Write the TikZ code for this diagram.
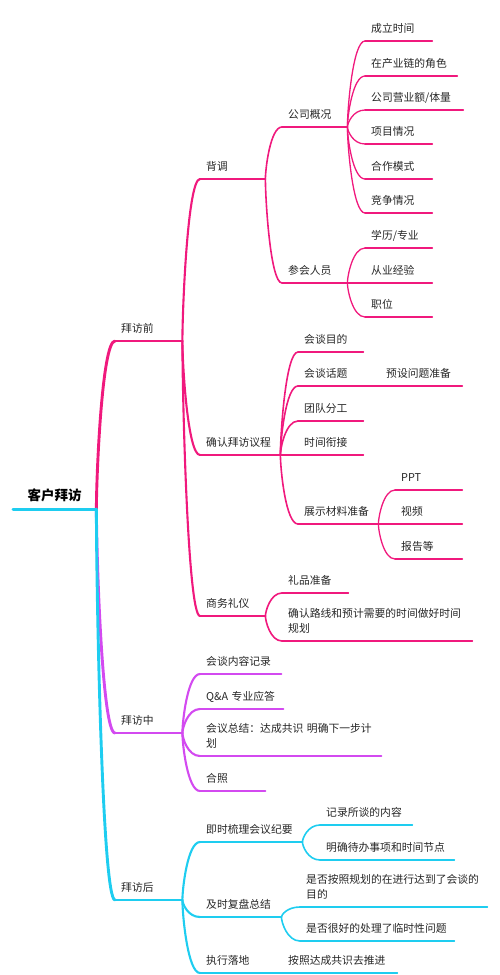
\documentclass[tikz,border=0pt]{standalone}
\usepackage{fontspec}
\setmainfont{Noto Sans CJK SC}
\usetikzlibrary{calc}
\definecolor{cpink}{HTML}{F0197D}
\definecolor{cpurple}{HTML}{D34AF0}
\definecolor{ccyan}{HTML}{1ECDF0}
\definecolor{ctext}{HTML}{262626}
\tikzset{
  topic/.style={anchor=south west, inner xsep=6pt, inner ysep=8pt, text depth=0pt,
    align=left, text=ctext, font=\fontsize{10.8}{15}\selectfont},
  twoline/.style={text depth=15pt},
  rootstyle/.style={anchor=south west, inner xsep=6pt, inner ysep=8pt, text depth=0pt,
    align=center, text=black, font=\fontsize{13.5}{16}\selectfont\bfseries},
  branch/.style={to path={let \p1=(\tikztostart), \p2=(\tikztotarget) in
    .. controls (\x1,{\y1+0.2*(\y2-\y1)}) and ({\x1+0.3*(\x2-\x1)},\y2) .. (\tikztotarget) \tikztonodes}},
  lone/.style={line width=2.9pt, line cap=round},
  ltwo/.style={line width=2.1pt, line cap=round},
  lthree/.style={line width=1.6pt, line cap=round},
  lfour/.style={line width=1.3pt, line cap=round},
}
\begin{document}
\begin{tikzpicture}[x=1pt,y=-1pt]
\useasboundingbox (0,0) rectangle (500,975);
% ---------- nodes ----------
\node[rootstyle, text width=71pt] (root) at (13,509) {客户拜访};
\node[topic, text width=55pt] (qian) at (115,341) {拜访前};
\node[topic, text width=55pt] (zhong) at (115,733) {拜访中};
\node[topic, text width=55pt] (hou) at (115,900) {拜访后};
% before
\node[topic, text width=53pt] (beidiao) at (200,179) {背调};
\node[topic, text width=68pt] (yicheng) at (200,455) {确认拜访议程};
\node[topic, text width=53pt] (liyi) at (200,616) {商务礼仪};
\node[topic, text width=53pt] (gaikuang) at (282,127) {公司概况};
\node[topic, text width=53pt] (renyuan) at (282,283) {参会人员};
\node[topic, text width=55pt] (chengli) at (365,41) {成立时间};
\node[topic, text width=80pt] (juese) at (365,76) {在产业链的角色};
\node[topic, text width=86pt] (yingye) at (365,110) {公司营业额/体量};
\node[topic, text width=55pt] (xiangmu) at (365,144) {项目情况};
\node[topic, text width=55pt] (hezuo) at (365,179) {合作模式};
\node[topic, text width=55pt] (jingzheng) at (365,213) {竞争情况};
\node[topic, text width=55pt] (xueli) at (365,248) {学历/专业};
\node[topic, text width=55pt] (jingyan) at (365,283) {从业经验};
\node[topic, text width=55pt] (zhiwei) at (365,317) {职位};
\node[topic, text width=53pt] (mudi) at (298,352) {会谈目的};
\node[topic, text width=53pt] (huati) at (298,386) {会谈话题};
\node[topic, text width=70pt] (yushe) at (380,386) {预设问题准备};
\node[topic, text width=53pt] (fengong) at (298,421) {团队分工};
\node[topic, text width=53pt] (xianjie) at (298,455) {时间衔接};
\node[topic, text width=68pt] (cailiao) at (298,524) {展示材料准备};
\node[topic, text width=55pt] (ppt) at (395,490) {PPT};
\node[topic, text width=55pt] (shipin) at (395,524) {视频};
\node[topic, text width=55pt] (baogao) at (395,559) {报告等};
\node[topic, text width=54pt] (lipin) at (282,593) {礼品准备};
\node[topic, twoline, text width=178pt] (luxian) at (282,641) {确认路线和预计需要的时间做好时间\\规划};
% during
\node[topic, text width=69pt] (jilu) at (200,674) {会谈内容记录};
\node[topic, text width=71pt] (qa) at (200,709) {Q\&A 专业应答};
\node[topic, twoline, text width=169pt] (zongjie) at (200,756) {会议总结：达成共识 明确下一步计\\划};
\node[topic, text width=53pt] (hezhao) at (200,791) {合照};
% after
\node[topic, text width=90pt] (jiyao) at (200,842) {即时梳理会议纪要};
\node[topic, text width=69pt] (fupan) at (200,917) {及时复盘总结};
\node[topic, text width=53pt] (luodi) at (200,973) {执行落地};
\node[topic, text width=80pt] (suotan) at (320,825) {记录所谈的内容};
\node[topic, text width=122pt] (daiban) at (320,860) {明确待办事项和时间节点};
\node[topic, twoline, text width=175pt] (mubiao) at (300,907) {是否按照规划的在进行达到了会谈的\\目的};
\node[topic, text width=142pt] (linshi) at (300,941) {是否很好的处理了临时性问题};
\node[topic, text width=103pt] (tuijin) at (282,973) {按照达成共识去推进};

% ---------- purple branch ----------
\begin{scope}[draw=cpurple]
\draw[lone] (root.south east) to[branch] (zhong.south west);
\draw[lone] (zhong.south west) -- (zhong.south east);
\foreach \ch in {jilu,qa,zongjie,hezhao}{
  \draw[ltwo] (zhong.south east) to[branch] (\ch.south west);
  \draw[ltwo] (\ch.south west) -- (\ch.south east);
}
\end{scope}
% ---------- pink branch ----------
\begin{scope}[draw=cpink]
\draw[lone] (root.south east) to[branch] (qian.south west);
\draw[lone] (qian.south west) -- (qian.south east);
\foreach \ch in {beidiao,yicheng,liyi}{
  \draw[ltwo] (qian.south east) to[branch] (\ch.south west);
  \draw[ltwo] (\ch.south west) -- (\ch.south east);
}
\foreach \pa/\ch in {beidiao/gaikuang,beidiao/renyuan,yicheng/mudi,yicheng/huati,yicheng/fengong,yicheng/xianjie,yicheng/cailiao,liyi/lipin,liyi/luxian}{
  \draw[lthree] (\pa.south east) to[branch] (\ch.south west);
  \draw[lthree] (\ch.south west) -- (\ch.south east);
}
\foreach \pa/\ch in {gaikuang/chengli,gaikuang/juese,gaikuang/yingye,gaikuang/xiangmu,gaikuang/hezuo,gaikuang/jingzheng,renyuan/xueli,renyuan/jingyan,renyuan/zhiwei,huati/yushe,cailiao/ppt,cailiao/shipin,cailiao/baogao}{
  \draw[lfour] (\pa.south east) to[branch] (\ch.south west);
  \draw[lfour] (\ch.south west) -- (\ch.south east);
}
\end{scope}
% ---------- cyan branch ----------
\begin{scope}[draw=ccyan]
\draw[lone] (root.south east) to[branch] (hou.south west);
\draw[lone] (hou.south west) -- (hou.south east);
\foreach \ch in {jiyao,fupan,luodi}{
  \draw[ltwo] (hou.south east) to[branch] (\ch.south west);
  \draw[ltwo] (\ch.south west) -- (\ch.south east);
}
\foreach \pa/\ch in {jiyao/suotan,jiyao/daiban,fupan/mubiao,fupan/linshi,luodi/tuijin}{
  \draw[lthree] (\pa.south east) to[branch] (\ch.south west);
  \draw[lthree] (\ch.south west) -- (\ch.south east);
}
\draw[line width=3pt, line cap=round] (root.south west) -- (root.south east);
\end{scope}
\end{tikzpicture}
\end{document}
